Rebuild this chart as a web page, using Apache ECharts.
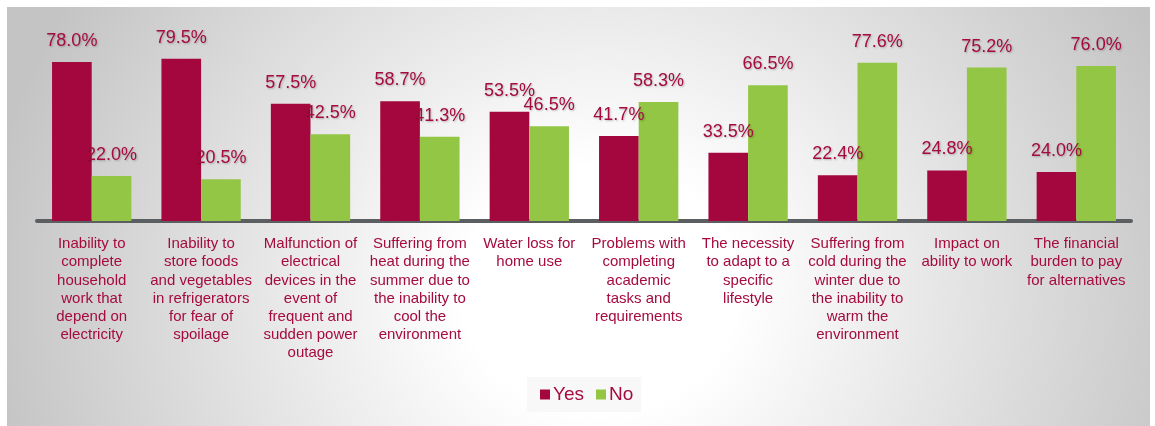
<!DOCTYPE html>
<html>
<head>
<meta charset="utf-8">
<script src="https://cdn.jsdelivr.net/npm/echarts@6/dist/echarts.min.js"></script>
<style>
  html, body { margin: 0; padding: 0; background: #fff; }
  #wrap { position: relative; width: 1155px; height: 426px; overflow: hidden; }
  #bg {
    position: absolute; left: 7px; top: 7px; width: 1143px; height: 419px;
    background: radial-gradient(ellipse 620px 560px at 593px 283px, #ffffff 22%, #c4c4c4 100%);
  }
  #chart { position: absolute; left: 0; top: 0; width: 1155px; height: 426px; }
</style>
</head>
<body>
<div id="wrap">
  <div id="bg"></div>
  <div id="chart"></div>
</div>
<script>
// categories (line breaks as in the source picture)
const categories = [
  'Inability to\ncomplete\nhousehold\nwork that\ndepend on\nelectricity',
  'Inability to\nstore foods\nand vegetables\nin refrigerators\nfor fear of\nspoilage',
  'Malfunction of\nelectrical\ndevices in the\nevent of\nfrequent and\nsudden power\noutage',
  'Suffering from\nheat during the\nsummer due to\nthe inability to\ncool the\nenvironment',
  'Water loss for\nhome use',
  'Problems with\ncompleting\nacademic\ntasks and\nrequirements',
  'The necessity\nto adapt to a\nspecific\nlifestyle',
  'Suffering from\ncold during the\nwinter due to\nthe inability to\nwarm the\nenvironment',
  'Impact on\nability to work',
  'The financial\nburden to pay\nfor alternatives'
]
const yesValues = [78.0, 79.5, 57.5, 58.7, 53.5, 41.7, 33.5, 22.4, 24.8, 24.0]
const noValues = [22.0, 20.5, 42.5, 41.3, 46.5, 58.3, 66.5, 77.6, 75.2, 76.0]

const RED = '#A4073D'
const GREEN = '#93C644'
const TEXT = '#A50B3D'
const FONT = '"Liberation Sans", Arial, sans-serif'

const valueLabel = {
  show: true,
  position: 'top',
  distance: 12,
  fontSize: 18,
  fontFamily: FONT,
  color: TEXT,
  textShadowColor: 'rgba(0,0,0,0.25)',
  textShadowBlur: 2,
  textShadowOffsetX: 1,
  textShadowOffsetY: 1,
  formatter: p => p.value.toFixed(1) + '%'
}

const myChart = echarts.init(document.getElementById('chart'))
var option = {
  backgroundColor: 'transparent',
  animation: false,
  grid: {
    left: 37,
    right: 24,
    top: 17,
    height: 204
  },
  legend: {
    data: ['Yes', 'No'],
    left: 527,
    top: 377,
    padding: [8, 8, 8, 13],
    backgroundColor: 'rgba(247,247,247,0.9)',
    itemWidth: 10,
    itemHeight: 10,
    itemGap: 12,
    icon: 'rect',
    textStyle: {
      fontSize: 19,
      fontFamily: FONT,
      color: TEXT,
      padding: [0, 0, 0, -2]
    }
  },
  xAxis: {
    type: 'category',
    data: categories,
    axisLine: { lineStyle: { color: '#5B5F62', width: 4 } },
    axisTick: { show: false },
    axisLabel: {
      interval: 0,
      margin: 14,
      fontSize: 15,
      lineHeight: 18.2,
      fontFamily: FONT,
      color: TEXT,
      align: 'center'
    }
  },
  yAxis: {
    type: 'value',
    min: 0,
    max: 100,
    show: false,
    splitLine: { show: false }
  },
  series: [
    {
      name: 'Yes',
      type: 'bar',
      data: yesValues,
      barGap: '0%',
      barCategoryGap: '27.5%',
      itemStyle: { color: RED },
      label: valueLabel
    },
    {
      name: 'No',
      type: 'bar',
      data: noValues,
      itemStyle: { color: GREEN },
      label: valueLabel
    }
  ]
}
option && myChart.setOption(option)
</script>
</body>
</html>
